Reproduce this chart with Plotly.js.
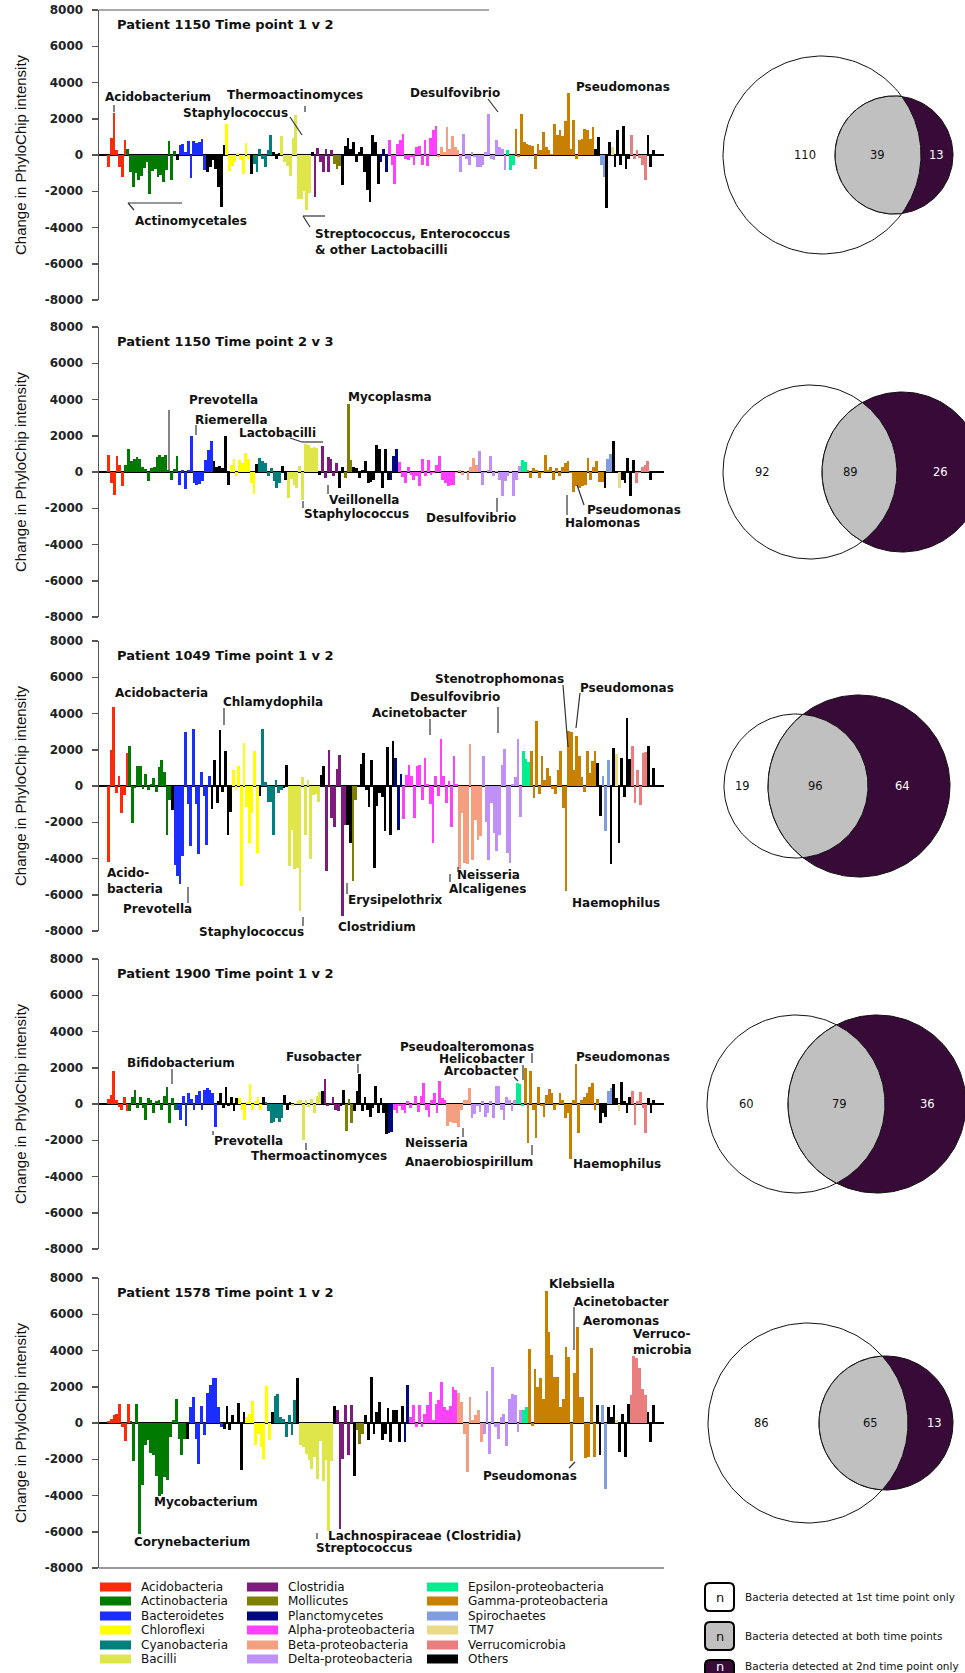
<!DOCTYPE html>
<html><head><meta charset="utf-8">
<script src="https://cdn.plot.ly/plotly-3.0.1.min.js"></script>
<style>html,body{margin:0;padding:0;background:#fff}#chart{width:965px;height:1673px}</style>
</head><body><div id="chart"></div>
<script>
// ================= DATA =================
const taxa = ["Acidobacteria","Actinobacteria","Bacteroidetes","Chloroflexi","Cyanobacteria","Bacilli",
  "Clostridia","Mollicutes","Planctomycetes","Alpha-proteobacteria","Beta-proteobacteria","Delta-proteobacteria",
  "Epsilon-proteobacteria","Gamma-proteobacteria","Spirochaetes","TM7","Verrucomicrobia","Others"];
const taxaColors = ["#ff2a0a","#007a00","#1a2eff","#ffff00","#007f7f","#dfe64a",
  "#7f1a7f","#7f7f00","#000a80","#ff40ff","#f4a080","#c090f8",
  "#00ee90","#c88000","#7f9de0","#ebd98a","#ea7e7e","#000000"];

const panelTitles = ["Patient 1150 Time point 1 v 2","Patient 1150 Time point 2 v 3","Patient 1049 Time point 1 v 2",
  "Patient 1900 Time point 1 v 2","Patient 1578 Time point 1 v 2"];
const yTickVals = [-8000,-6000,-4000,-2000,0,2000,4000,6000,8000];
const yTickText = ["-8000","-6000","-4000","-2000","0","2000","4000","6000","8000"];
const yAxisTitle = "Change in PhyloChip intensity";

// Panel 1: Patient 1150, 1 v 2
const p1Groups = ["Acidobacteria","Actinobacteria","Others","Bacteroidetes","Others","Chloroflexi","Others","Cyanobacteria","Others",
  "Bacilli","Others","Clostridia","Mollicutes","Others","Planctomycetes","Alpha-proteobacteria","Beta-proteobacteria",
  "Delta-proteobacteria","Epsilon-proteobacteria","Gamma-proteobacteria","Others","Spirochaetes","Others","TM7","Others","Verrucomicrobia","Others"];
const p1Values = [
  [-650,950,2300,300,-650,-1200,850],
  [350,-950,-1750,-1000,-1400,-1150,-700,-400,-2150,-900,-750,-1200,-1100,-1500,-850,750,-1400,200],
  [-300],
  [530,630,170,750,-1250,800,650,700,900,-850],
  [-950,-650,-300,-750,-1750,-2850,570],
  [1700,-900,-600,-400,100,-300,-1050,680,-200],
  [-1050],
  [-500,-950,350,-200,-650,300,1130],
  [170,-200,100],
  [1030,-400,-600,-1150,960,2230,-2400,-2450,-2000,-3050,-2100],
  [170],
  [-2300,390,-400,-950,350,-950,300],
  [-480,-750,-600],
  [-1670,500,960,350,720,-400,170,450,-950,-1950,-2600,1090,720,-1580],
  [-400,350,-940],
  [810,-570,-1580,630,810,1180,-200,-300,-100,-570,440,500,-570,810,-600,940,1360,1580],
  [-100,440,170,1550,350,1050,440,260],
  [-940,1180,-200,-570,170,-100,-660,-660,-570,170,2280,-200,-250,810,440,350,-850],
  [260,-850,-570],
  [1420,-100,2280,720,630,540,500,-750,630,260,1270,440,260,80,1730,1100,1380,1050,1860,3420,350,1910,-200,810,900,1420,1380,900,1550],
  [350,990],
  [-570,-1210],
  [-2950,720],
  [440],
  [-650,1360,-570,1580,-750,-200],
  [1090,-200,260,-150,-570,-1400],
  [1090,-650,260]
];

// Panel 2: Patient 1150, 2 v 3
const p2Groups = ["Acidobacteria","Actinobacteria","Bacteroidetes","Others","Chloroflexi","Others","Cyanobacteria","Others",
  "Bacilli","Others","Clostridia","Others","Mollicutes","Others","Planctomycetes","Alpha-proteobacteria","Beta-proteobacteria",
  "Delta-proteobacteria","Epsilon-proteobacteria","Gamma-proteobacteria","Others","Spirochaetes","Others","TM7","Others","Verrucomicrobia","Others"];
const p2Values = [
  [920,-610,-1250,900,400,-790],
  [400,1290,600,700,830,720,300,150,-520,220,300,830,960,850,960,100,-420,170,900],
  [-700,130,-940,100,1970,-600,-700,-650,-520,680,1230,1690],
  [630,300,350,200,2000,-700],
  [400,720,-240,680,500,1050,700,-600,-1200],
  [460],
  [770,600,500,-240,220,-520,-880,-600],
  [310,-420],
  [-1430,-400,-700,-880,310,-1530,1560,1510,1320,1380,1320],
  [-150],
  [1420,-330,810,700,-200,500],
  [-880,280],
  [-330,3750,680],
  [300,200,-330,130,590,-600,-540,-420,1510,1270,-880,1270,-420],
  [-420,860,1270],
  [550,-300,-600,300,-150,-420,-240,-790,700,-240,680,-150,-60,400,900,-420,-610,-790,-700,-700],
  [-60,130,-150,40,-420,300,770,400],
  [1140,-700,-60,130,900,-240,40,-420,-1300,-520,-240,40,-1300,-420,350],
  [680,550],
  [130,-330,220,130,-330,-60,960,130,300,-420,200,-240,300,500,590,-60,-1120,-790,-880,-790,-700,770,-420,300,590,-540,-540],
  [-880],
  [700,990],
  [1690,50],
  [-880],
  [-420,-600,770,-1340,680],
  [-600,-60,300,400,590],
  [-420,50]
];

// Panel 3: Patient 1049, 1 v 2
const p3Groups = ["Acidobacteria","Actinobacteria","Others","Bacteroidetes","Others","Chloroflexi","Others","Cyanobacteria","Others",
  "Bacilli","Others","Clostridia","Others","Mollicutes","Others","Planctomycetes","Alpha-proteobacteria","Beta-proteobacteria",
  "Delta-proteobacteria","Epsilon-proteobacteria","Gamma-proteobacteria","Others","Spirochaetes","Others","TM7","Others","Verrucomicrobia","Others"];
const p3Values = [
  [-4200,2000,4350,-380,530,-1470,-510,1820],
  [2200,-2020,-100,1130,1130,-150,640,-200,100,450,-330,1040,1440,760,-2730,-780],
  [-1330],
  [-4380,-4970,-5420,-3880,2980,-1020,-3300,3170,-1020,-3750,750,-560,-3240,560],
  [-1270,1460,-930,3080,-330,1910,-2730,-1420],
  [860,-200,1080,-5510,2380,-1150,-3150,-1510,1950,-3700],
  [-560],
  [3130,220,-870,-870,-2730,350,-380,-200],
  [-100,1180],
  [-4420,-2420,-4560,-4510,-6880,490,-2730,350,-4020,-510,-420,-870],
  [580,1130],
  [-4700,2000,-1780,-2240,950,1710,-7150,-2150],
  [-2150,-3150],
  [-5240,-780],
  [-50,1220,1800,-240,-1150,1440,-4510,-1110,-380,-600,-2510,2170,-2730,2490],
  [1550,-2420,640],
  [-1840,580,1160,530,-1780,1130,1180,-780,1550,100,-1000,-3150,530,-560,2580,530,-960,300,-2240,1670,130],
  [-4600,-1510,-4240,-4330,2310,-4060,-1880,-2970,-2780],
  [1670,-1970,-4060,-960,-2600,-3600,-2690,1160,2040,-3700,-4240,130,490,2580,-1690],
  [1950,1490,1300],
  [1910,-640,3580,-420,1670,310,1000,530,-150,-460,860,1950,-1240,-5790,3040,3000,860,2760,1670,490,-330,1950,700,1400,1950],
  [1260,-1660],
  [530,-2510,1440],
  [-4330,2070],
  [1770],
  [-3150,1550,-600,3770,1490],
  [2220,-960,860,-1060,1800,1860],
  [2220,-50,1000]
];

// Panel 4: Patient 1900, 1 v 2
const p4Groups = ["Acidobacteria","Actinobacteria","Bacteroidetes","Others","Chloroflexi","Others","Cyanobacteria","Others",
  "Bacilli","Others","Clostridia","Others","Mollicutes","Others","Planctomycetes","Alpha-proteobacteria","Beta-proteobacteria",
  "Delta-proteobacteria","Epsilon-proteobacteria","Gamma-proteobacteria","Others","Spirochaetes","Others","TM7","Others","Verrucomicrobia","Others"];
const p4Values = [
  [280,520,1820,240,-170,-320,390,-410],
  [-410,390,800,-220,390,-220,-870,330,240,-500,150,200,-320,430,950,-1060,330,-320],
  [-320,-870,460,-1210,580,280,-320,520,710,-320,800,890,800,610,-1250],
  [150,610,-220,950,-130,390,-410,330],
  [330,-320,-910,90,1080,-320,150,390,-350],
  [390],
  [130,-410,-1060,-970,-780,-1020,-780],
  [520,-320,130],
  [-130,40,150,240,-1990,240,-170,280,-500,430,650],
  [710],
  [1400,-130,60,390,-320,-410],
  [-130,750],
  [-1470,280,-1060],
  [-410,710,1640,-410,390,-320,-690,-220,990,-500,330,-500,-1660],
  [-1580,-1530],
  [-320,-500,-130,-320,-500,150,-220,40,430,-460,460,1170,-350,-690,240,610,-500,1260,330,240],
  [-1210,-970,-1060,-1060,-1290,-320,200,240,890],
  [-780,-540,-130,-460,150,-720,-500,150,-780,990,1020,-320,-870,390,240,-410,240],
  [1170,1100,-130],
  [2000,-2140,1820,-350,-1900,950,-130,-690,520,840,610,-320,-40,580,240,-780,-500,-3010,200,2190,-1620,200,390,610,950,1170,-320,280],
  [-1060,-500,-690],
  [710,890],
  [1080,330],
  [-410],
  [1210,150,-500,390],
  [710,-1150,150,670,-240,-1620],
  [330,-500,240]
];

// Panel 5: Patient 1578, 1 v 2
const p5Groups = ["Acidobacteria","Actinobacteria","Others","Bacteroidetes","Others","Chloroflexi","Others","Cyanobacteria","Others",
  "Bacilli","Others","Clostridia","Others","Mollicutes","Others","Planctomycetes","Alpha-proteobacteria","Beta-proteobacteria",
  "Delta-proteobacteria","Epsilon-proteobacteria","Gamma-proteobacteria","Others","Spirochaetes","Others","TM7","Others","Verrucomicrobia","Others"];
const p5Values = [
  [110,240,420,480,1030,-220,-1000,1030],
  [110,-2100,1070,-6130,-3400,-1240,-960,-1660,-1790,-2900,-4010,-3920,-2990,-3140,-780,150,1350,-870,-1790,-870],
  [-870],
  [890,1440,-870,-2250,920,-650,1630,2120,2460,2460,890,-220],
  [-310,920,-400,420,-70,1110,-2620,610],
  [330,520,1220,-1240,-590,-1330,-1980,2030,-960],
  [610],
  [1480,1590,330,240,-780,420,-680,1290],
  [2460],
  [-1240,-1330,-1700,-2030,-2530,-1880,-3080,-1000,-3180,-2030,-5950,-2070],
  [920],
  [740,-5860,-1980,980,-1790,980],
  [-2900],
  [-400,-1150,-590],
  [420,-960,2550,-590,610,1160,-960,-590,850,-1050,700,700,-1050,920],
  [-1050,2090],
  [330,980,-220,980,-220,520,980,1720,150,1070,1260,2270,890,700,920,2000,1810],
  [1630,1160,-590,-2710,1440,150,420,700,-1050],
  [-590,1770,-1700,3070,-220,-870,330,520,-1290,1350,1590,1530,-500,700],
  [700,890],
  [4060,-180,2960,2000,2460,1350,7310,5040,3750,2550,2550,890,1350,4210,3620,-2070,2770,5320,1440,1440,-1920,-1880,4120,-1880],
  [980,-1790],
  [980,-3640],
  [890,330,980],
  [150],
  [-1610,480,-1880,1070],
  [1530,3700,3560,3010,1900,1530],
  [610,-1050,980]
];

// Venn counts: [1st time point only, both, 2nd time point only]
const venn1 = [110,39,13];
const venn2 = [92,89,26];
const venn3 = [19,96,64];
const venn4 = [60,79,36];
const venn5 = [86,65,13];
const vennLegend = ["Bacteria detected at 1st time point only","Bacteria detected at both time points","Bacteria detected at 2nd time point only"];

// Genus labels per panel: [text, leftX, centerY]
const labels1 = [["Acidobacterium",103,97],["Thermoactinomyces",225,95],["Staphylococcus",181,113],["Actinomycetales",133,221],
  ["Streptococcus, Enterococcus<br>& other Lactobacilli",313,242],["Desulfovibrio",408,93],["Pseudomonas",574,87]];
const labels2 = [["Prevotella",187,400],["Riemerella",193,420],["Lactobacilli",237,433],["Mycoplasma",346,397],["Veillonella",327,500],
  ["Staphylococcus",302,514],["Desulfovibrio",424,518],["Pseudomonas",585,510],["Halomonas",563,523]];
const labels3 = [["Acidobacteria",113,693],["Chlamydophila",221,702],["Acinetobacter",370,713],["Desulfovibrio",408,697],["Stenotrophomonas",433,679],
  ["Pseudomonas",578,688],["Acido-<br>bacteria",105,881],["Prevotella",121,909],["Staphylococcus",197,932],["Erysipelothrix",346,900],
  ["Clostridium",336,927],["Neisseria",455,875],["Alcaligenes",447,889],["Haemophilus",570,903]];
const labels4 = [["Bifidobacterium",125,1063],["Prevotella",212,1141],["Thermoactinomyces",249,1156],["Fusobacter",284,1057],["Neisseria",403,1143],
  ["Anaerobiospirillum",403,1162],["Pseudoalteromonas",398,1047],["Helicobacter",437,1059],["Arcobacter",442,1071],["Pseudomonas",574,1057],["Haemophilus",571,1164]];
const labels5 = [["Mycobacterium",152,1502],["Corynebacterium",132,1542],["Lachnospiraceae (Clostridia)",326,1536],["Streptococcus",314,1548],
  ["Klebsiella",547,1284],["Acinetobacter",572,1302],["Aeromonas",581,1321],["Verruco-<br>microbia",631,1342],["Pseudomonas",481,1476]];

// ================= LAYOUT CONSTANTS =================
const W = 965, H = 1673;
const panelTops = [10, 327, 641, 959, 1278];
const panelH = 290;
const plotX0 = 99, plotX1 = 664, barX0 = 107, barX1 = 655;
const vennGeom = [[822,894,99,59],[810,902,87,80],[796,859,72,91],[796,877,89,89],[808,886,100,67]];
const vennLabelX = [[805,877,936],[762,850,940],[742,815,902],[746,839,927],[761,870,934]];
const leaders = [
  [114,105,114,112],[305,106,305,112],[290,117,302,135],[128,203,182,203],[128,203,134,210],[303,216,325,216],[303,216,310,227],[488,99,498,112],
  [169,410,169,470],[196,425,196,435],[290,438,302,442],[302,442,323,442],[328,485,328,494],[303,501,303,508],[497,498,497,512],[577,485,584,505],[567,495,567,515],
  [224,708,224,725],[430,719,430,735],[498,707,498,733],[563,685,568,747],[580,693,576,728],[188,887,188,903],[303,917,303,926],[347,883,347,894],[458,867,458,872],[450,874,450,882],
  [172,1069,172,1084],[213,1131,213,1135],[306,1143,306,1150],[358,1064,358,1073],[463,1128,463,1137],[532,1145,532,1155],[532,1053,532,1063],[523,1065,523,1080],[514,1077,518,1081],
  [317,1533,317,1539],[574,1307,574,1350],[569,1468,575,1462]
];

const FONT_BOLD = {family:'DejaVu Sans, Verdana, sans-serif', size:12, color:'#111', weight:700};
const colorOf = {}; taxa.forEach((t,i)=>colorOf[t]=taxaColors[i]);

const panels = [
  {groups:p1Groups, values:p1Values, venn:venn1, labels:labels1},
  {groups:p2Groups, values:p2Values, venn:venn2, labels:labels2},
  {groups:p3Groups, values:p3Values, venn:venn3, labels:labels3},
  {groups:p4Groups, values:p4Values, venn:venn4, labels:labels4},
  {groups:p5Groups, values:p5Values, venn:venn5, labels:labels5}
];

const traces = [];
const layout = {
  width:W, height:H, margin:{l:0,r:0,t:0,b:0}, paper_bgcolor:'#ffffff', plot_bgcolor:'rgba(0,0,0,0)',
  showlegend:false, bargap:0, hovermode:false, shapes:[], annotations:[],
  xaxis6:{domain:[0,1], range:[0,W], visible:false, anchor:'y6', fixedrange:true},
  yaxis6:{domain:[0,1], range:[H,0], visible:false, anchor:'x6', fixedrange:true}
};
const OV = {xref:'x6', yref:'y6'};

function circlePts(cx, cy, r, a0, a1, n){
  const xs=[], ys=[];
  for(let i=0;i<=n;i++){ const a=a0+(a1-a0)*i/n; xs.push(cx+r*Math.cos(a)); ys.push(cy+r*Math.sin(a)); }
  return [xs, ys];
}

panels.forEach((p,i)=>{
  const k = i===0 ? '' : String(i+1);
  const xs=[], ys=[], cs=[];
  p.groups.forEach((g,j)=>{ p.values[j].forEach(v=>{ xs.push(xs.length); ys.push(v); cs.push(colorOf[g]); }); });
  const N = xs.length;
  const pxPer = (barX1-barX0)/N;
  const top = panelTops[i];
  const zeroY = top + panelH/2;
  traces.push({type:'bar', x:xs, y:ys, xaxis:'x'+k, yaxis:'y'+k, width:1,
    marker:{color:cs, line:{width:0}}, hoverinfo:'skip'});
  layout['xaxis'+k] = {domain:[plotX0/W, plotX1/W], range:[-0.5-(barX0-plotX0)/pxPer, N-0.5+(plotX1-barX1)/pxPer],
    visible:false, anchor:'y'+k, fixedrange:true};
  layout['yaxis'+k] = {domain:[1-(top+panelH)/H, 1-top/H], range:[-8000,8000], tickvals:yTickVals, ticktext:yTickText,
    showline:true, linecolor:'#555', linewidth:1.5, ticks:'outside', ticklen:6, tickwidth:1.5, tickcolor:'#555',
    showgrid:false, zeroline:true, zerolinecolor:'#000', zerolinewidth:1.5, ticklabelstandoff:6,
    tickfont:{family:'DejaVu Sans, Verdana, sans-serif', size:12, color:'#222', weight:700}, anchor:'x'+k, fixedrange:true};

  layout.annotations.push(Object.assign({x:115, y:top+14, text:panelTitles[i], showarrow:false, xanchor:'left', yanchor:'middle',
    font:Object.assign({}, FONT_BOLD, {size:13})}, OV));
  layout.annotations.push(Object.assign({x:20, y:zeroY, text:yAxisTitle, showarrow:false, textangle:-90, xanchor:'center', yanchor:'middle',
    font:{family:'Liberation Sans, Arial, sans-serif', size:15, color:'#111'}}, OV));
  p.labels.forEach(l=>{
    layout.annotations.push(Object.assign({x:l[1], y:l[2], text:l[0], showarrow:false, xanchor:'left', yanchor:'middle', align:'left',
      font:FONT_BOLD}, OV));
  });

  const g = vennGeom[i];
  const cx1=g[0], cx2=g[1], r1=g[2], r2=g[3], cy=zeroY;
  const c1 = circlePts(cx1, cy, r1, 0, 2*Math.PI, 180);
  const c2 = circlePts(cx2, cy, r2, 0, 2*Math.PI, 180);
  traces.push({type:'scatter', mode:'lines', x:c1[0], y:c1[1], xaxis:'x6', yaxis:'y6', fill:'toself', fillcolor:'#ffffff', line:{color:'#111', width:1}, hoverinfo:'skip'});
  traces.push({type:'scatter', mode:'lines', x:c2[0], y:c2[1], xaxis:'x6', yaxis:'y6', fill:'toself', fillcolor:'#380a38', line:{color:'#111', width:1}, hoverinfo:'skip'});
  const d = cx2-cx1, a = (r1*r1 - r2*r2 + d*d)/(2*d), h = Math.sqrt(Math.max(0, r1*r1 - a*a));
  const th1 = Math.atan2(h, a), ph2 = Math.atan2(h, a-d);
  const arc1 = circlePts(cx1, cy, r1, -th1, th1, 120);
  const arc2 = circlePts(cx2, cy, r2, ph2, 2*Math.PI-ph2, 120);
  traces.push({type:'scatter', mode:'lines', x:arc1[0].concat(arc2[0]), y:arc1[1].concat(arc2[1]), xaxis:'x6', yaxis:'y6',
    fill:'toself', fillcolor:'#c0c0c0', line:{color:'#111', width:1}, hoverinfo:'skip'});
  const lx = vennLabelX[i];
  p.venn.forEach((n,j)=>{
    layout.annotations.push(Object.assign({x:lx[j], y:cy, text:String(n), showarrow:false, xanchor:'center', yanchor:'middle',
      font:{family:'DejaVu Sans, Verdana, sans-serif', size:11.5, color: j===2 ? '#ffffff' : '#111'}}, OV));
  });
});

leaders.forEach(l=>{
  layout.shapes.push(Object.assign({type:'line', x0:l[0], y0:l[1], x1:l[2], y1:l[3], line:{color:'#333', width:1.2}}, OV));
});
layout.shapes.push(Object.assign({type:'line', x0:plotX0, y0:panelTops[0], x1:489, y1:panelTops[0], line:{color:'#555', width:1.2}}, OV));
layout.shapes.push(Object.assign({type:'line', x0:plotX0, y0:panelTops[4]+panelH, x1:plotX1, y1:panelTops[4]+panelH, line:{color:'#777', width:1.5}}, OV));

const legColX = [100, 247, 427], legRowY = [1587, 1601, 1616, 1630, 1645, 1659];
taxa.forEach((t,i)=>{
  const c = Math.floor(i/6), r = i%6;
  const x0 = legColX[c], y = legRowY[r];
  layout.shapes.push(Object.assign({type:'rect', x0:x0, x1:x0+31, y0:y-4.5, y1:y+4.5, fillcolor:taxaColors[i], line:{width:0}}, OV));
  layout.annotations.push(Object.assign({x:x0+39, y:y, text:t, showarrow:false, xanchor:'left', yanchor:'middle',
    font:{family:'DejaVu Sans, Verdana, sans-serif', size:12, color:'#111'}}, OV));
});

const vlFill = ['#ffffff','#c0c0c0','#380a38'], vlText = ['#111','#111','#ffffff'];
const vlBoxY = [1597, 1636, 1674];
const vlTextY = [1597, 1636, 1666];
function roundRect(x0,y0,x1,y1,r){
  return `M${x0+r},${y0} L${x1-r},${y0} Q${x1},${y0} ${x1},${y0+r} L${x1},${y1-r} Q${x1},${y1} ${x1-r},${y1} L${x0+r},${y1} Q${x0},${y1} ${x0},${y1-r} L${x0},${y0+r} Q${x0},${y0} ${x0+r},${y0} Z`;
}
vennLegend.forEach((t,i)=>{
  const y = vlBoxY[i];
  layout.shapes.push(Object.assign({type:'path', path:roundRect(705, y-14, 734, y+14, 5), fillcolor:vlFill[i], line:{color:'#000', width:2}}, OV));
  layout.annotations.push(Object.assign({x:719.5, y: i===2 ? 1666 : y, text:'n', showarrow:false, xanchor:'center', yanchor:'middle',
    font:{family:'DejaVu Sans, Verdana, sans-serif', size:13, color:vlText[i]}}, OV));
  layout.annotations.push(Object.assign({x:743, y:vlTextY[i], text:t, showarrow:false, xanchor:'left', yanchor:'middle',
    font:{family:'DejaVu Sans, Verdana, sans-serif', size:10.5, color:'#111'}}, OV));
});

Plotly.newPlot('chart', traces, layout, {staticPlot:true, displayModeBar:false});
</script>
</body></html>
